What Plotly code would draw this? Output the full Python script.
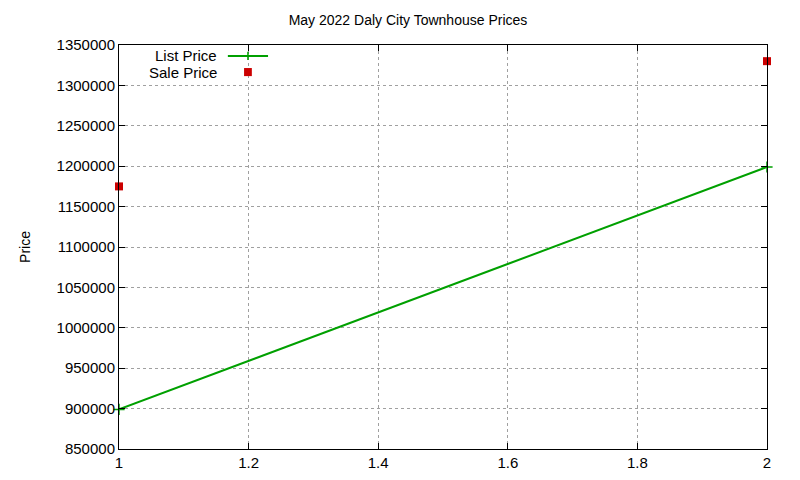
import plotly.graph_objects as go

x_vals = [1, 2]
list_price = [899000, 1199000]
sale_price = [1175000, 1330000]
y_ticks = [850000, 900000, 950000, 1000000, 1050000, 1100000, 1150000, 1200000, 1250000, 1300000, 1350000]
x_ticks = [1, 1.2, 1.4, 1.6, 1.8, 2]

fig = go.Figure()
fig.add_trace(go.Scatter(x=x_vals, y=list_price, mode="lines+markers", name="List Price",
                         line=dict(color="#00a000", width=2),
                         marker=dict(symbol="cross-thin", size=8, line=dict(color="#00a000", width=1.5)),
                         cliponaxis=False))
fig.add_trace(go.Scatter(x=x_vals, y=sale_price, mode="markers", name="Sale Price",
                         marker=dict(symbol="square", size=8, color="#cc0000"), cliponaxis=False))

font = dict(family="Liberation Sans, Arial", size=15, color="black")
fig.update_layout(
    width=800, height=480, margin=dict(l=111, r=41, t=37, b=39),
    paper_bgcolor="white", plot_bgcolor="white", showlegend=False, font=font,
    title=dict(text="May 2022 Daly City Townhouse Prices", x=0.5, xanchor="center", y=0.975, yanchor="middle",
               font=dict(family="Liberation Sans, Arial", size=14)),
)
axis_common = dict(showline=True, linecolor="black", linewidth=1, mirror="ticks", ticks="inside",
                   ticklen=6, tickcolor="black", showgrid=True, gridcolor="#a0a0a0", griddash="dot",
                   gridwidth=1, zeroline=False, tickfont=font)
fig.update_xaxes(range=[1, 2], tickvals=x_ticks, ticktext=[str(t) for t in x_ticks], **axis_common)
fig.update_yaxes(range=[850000, 1350000], tickvals=y_ticks, ticktext=[str(t) for t in y_ticks],
                 title=dict(text="Price", standoff=22, font=dict(family="Liberation Sans, Arial", size=14)),
                 **axis_common)

# gnuplot-style legend
fig.add_annotation(xref="paper", yref="paper", x=0.154, y=0.973, text="List Price", showarrow=False,
                   xanchor="right", yanchor="middle", font=font)
fig.add_annotation(xref="paper", yref="paper", x=0.154, y=0.933, text="Sale Price", showarrow=False,
                   xanchor="right", yanchor="middle", font=font)
fig.add_shape(type="line", xref="paper", yref="paper", x0=0.168, x1=0.230, y0=0.973, y1=0.973,
              line=dict(color="#00a000", width=2))
fig.add_shape(type="line", xref="paper", yref="paper", x0=0.199, x1=0.199, y0=0.963, y1=0.983,
              line=dict(color="#00a000", width=1.5))
fig.add_shape(type="rect", xref="paper", yref="paper", x0=0.193, x1=0.205, y0=0.923, y1=0.943,
              fillcolor="#cc0000", line=dict(width=0))

fig.write_html("out.html")
